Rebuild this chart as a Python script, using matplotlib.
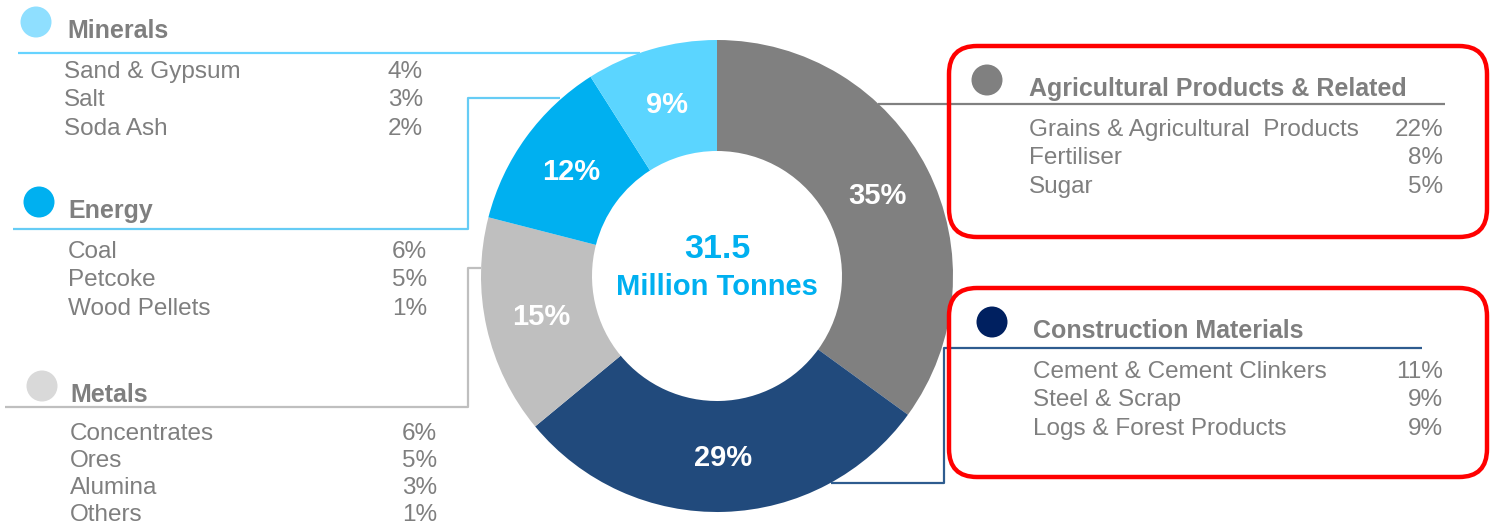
import matplotlib
matplotlib.use("Agg")
import matplotlib.pyplot as plt
from matplotlib.patches import Circle, FancyBboxPatch

# ---------------- data ----------------
categories = ["Agricultural Products & Related", "Construction Materials",
              "Metals", "Energy", "Minerals"]
shares = [35, 29, 15, 12, 9]
slice_colors = ["#808080", "#214A7C", "#BFBFBF", "#00B0F0", "#5BD5FF"]

total_volume = "31.5"
total_unit = "Million Tonnes"

minerals_items = ["Sand & Gypsum", "Salt", "Soda Ash"]
minerals_pcts = ["4%", "3%", "2%"]
energy_items = ["Coal", "Petcoke", "Wood Pellets"]
energy_pcts = ["6%", "5%", "1%"]
metals_items = ["Concentrates", "Ores", "Alumina", "Others"]
metals_pcts = ["6%", "5%", "3%", "1%"]
agri_items = ["Grains & Agricultural  Products", "Fertiliser", "Sugar"]
agri_pcts = ["22%", "8%", "5%"]
constr_items = ["Cement & Cement Clinkers", "Steel & Scrap", "Logs & Forest Products"]
constr_pcts = ["11%", "9%", "9%"]

# ---------------- figure ----------------
W, H = 1490, 528
plt.rcParams["font.family"] = ["Liberation Sans", "DejaVu Sans"]
fig = plt.figure(figsize=(W / 100, H / 100), dpi=100)
ax = fig.add_axes([0, 0, 1, 1])

TXT_DY = 2  # small downward nudge of text to match optical centring


def Y(y):
    return H - y


def TY(y):
    return H - y - TXT_DY


GREY_TXT = "#7F7F7F"
SUB_FS = 17.5
HEAD_FS = 18

# donut
cx, cy, R, r_in = 717, 276, 236, 125
wedges, texts, autotexts = ax.pie(
    shares, colors=slice_colors, startangle=90, counterclock=False,
    center=(cx, Y(cy)), radius=R, frame=True,
    wedgeprops=dict(width=R - r_in, linewidth=0),
    autopct="%.0f%%", pctdistance=((R + r_in) / 2) / R,
    textprops=dict(color="white", fontsize=21, fontweight="bold"))
for t in autotexts:
    x, y = t.get_position()
    t.set_position((x, y - TXT_DY))

ax.text(cx, TY(247), total_volume, color="#00B0F0", fontsize=24.5,
        fontweight="bold", ha="center", va="center")
ax.text(cx, TY(285), total_unit, color="#00B0F0", fontsize=21,
        fontweight="bold", ha="center", va="center")


def group(circ_xy, circ_color, head_x, head_y, title, items, pcts,
          item_x, item_y0, pct_right, step=28.3):
    ax.add_patch(Circle((circ_xy[0], Y(circ_xy[1])), 15.5, color=circ_color,
                        lw=0, zorder=3))
    ax.text(head_x, TY(head_y), title, color=GREY_TXT, fontsize=HEAD_FS,
            fontweight="bold", ha="left", va="center")
    for i, (it, p) in enumerate(zip(items, pcts)):
        yy = item_y0 + i * step
        ax.text(item_x, TY(yy), it, color=GREY_TXT, fontsize=SUB_FS,
                ha="left", va="center")
        ax.text(pct_right, TY(yy), p, color=GREY_TXT, fontsize=SUB_FS,
                ha="right", va="center")


def poly(xs, ys, color):
    ax.plot(xs, [Y(v) for v in ys], color=color, lw=1.6,
            solid_capstyle="butt", zorder=1)


# Minerals
group((36, 22), "#8FDFFF", 67, 29, categories[4], minerals_items, minerals_pcts,
      64, 70, 423)
poly([18, 640], [52.5, 52.5], "#66D3FF")

# Energy
group((39, 202), "#00B0F0", 68, 209, categories[3], energy_items, energy_pcts,
      68, 250, 427)
poly([13, 468, 468, 560], [228.7, 228.7, 98, 98], "#66CCF5")

# Metals
group((42, 386), "#D9D9D9", 70, 393, categories[2], metals_items, metals_pcts,
      70, 431.5, 437, step=27.3)
poly([5, 468, 468, 481], [406.7, 406.7, 268, 268], "#BFBFBF")

# Agricultural
group((987, 80), "#808080", 1029, 87, categories[0], agri_items, agri_pcts,
      1029, 128, 1443)
poly([878, 1445], [103.5, 103.5], "#808080")

# Construction
group((992, 322), "#002060", 1033, 329, categories[1], constr_items, constr_pcts,
      1033, 370, 1443)
poly([831, 944, 944, 1422], [483, 483, 348, 348], "#2E5C8F")

# red highlight boxes
for (x0, y0, x1, y1) in [(949, 46, 1487, 237), (949, 288, 1487, 477)]:
    ax.add_patch(FancyBboxPatch((x0, Y(y1)), x1 - x0, y1 - y0,
                                boxstyle="round,pad=0,rounding_size=28",
                                fill=False, edgecolor="#FF0000", lw=3.2,
                                zorder=4))

ax.set_xlim(0, W)
ax.set_ylim(0, H)
ax.set_aspect("auto")
ax.axis("off")
fig.savefig("out.png", dpi=100, facecolor="white")
